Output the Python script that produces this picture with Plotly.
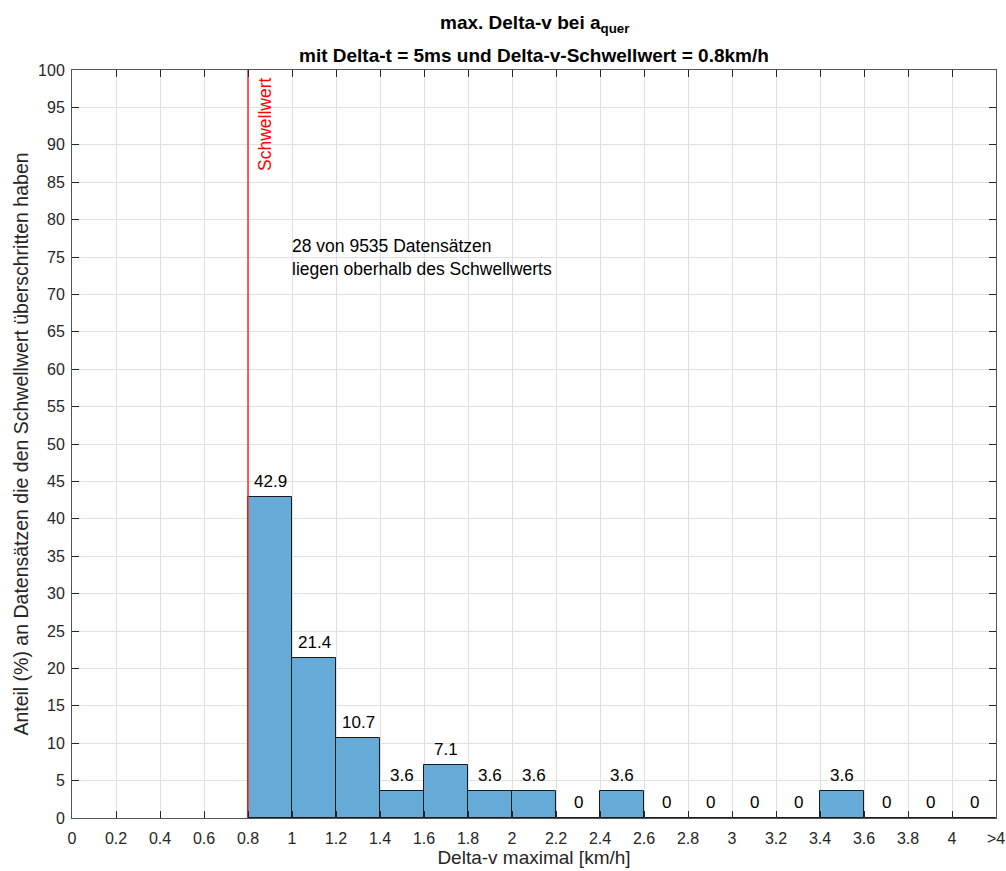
import plotly.graph_objects as go

# Histogram bins (lower edges, width 0.2 km/h) and relative share in percent
bin_left = [0.8, 1.0, 1.2, 1.4, 1.6, 1.8, 2.0, 2.2, 2.4, 2.6, 2.8, 3.0, 3.2, 3.4, 3.6, 3.8, 4.0]
share = [42.9, 21.4, 10.7, 3.6, 7.1, 3.6, 3.6, 0, 3.6, 0, 0, 0, 0, 3.6, 0, 0, 0]
bin_width = 0.2

tick_vals = [0, 0.2, 0.4, 0.6, 0.8, 1.0, 1.2, 1.4, 1.6, 1.8, 2.0, 2.2, 2.4, 2.6, 2.8,
             3.0, 3.2, 3.4, 3.6, 3.8, 4.0, 4.2]
tick_text = ["0", "0.2", "0.4", "0.6", "0.8", "1", "1.2", "1.4", "1.6", "1.8", "2", "2.2",
             "2.4", "2.6", "2.8", "3", "3.2", "3.4", "3.6", "3.8", "4", ">4"]

threshold = 0.8
n_above = 28
n_total = 9535

FONT = "Liberation Sans, Arial, Helvetica, sans-serif"
DARK = "#262626"

centers = [b + bin_width / 2 for b in bin_left]

fig = go.Figure()
fig.add_trace(go.Bar(
    x=centers, y=share, width=bin_width,
    marker=dict(color="#66AAD7", line=dict(color="#1a1a1a", width=1)),
    hoverinfo="x+y", showlegend=False,
))

# threshold marker
fig.add_trace(go.Scatter(
    x=[threshold, threshold], y=[0, 100], mode="lines",
    line=dict(color="#ff2a2a", width=1.5), showlegend=False, hoverinfo="skip",
))

annotations = []
for c, v in zip(centers, share):
    annotations.append(dict(
        x=c, y=v, xref="x", yref="y", text=f"{v:g}", showarrow=False,
        yanchor="bottom", yshift=4, font=dict(family=FONT, size=17, color="#000000"),
    ))

annotations.append(dict(
    x=threshold, y=100, xref="x", yref="y", text="Schwellwert", textangle=-90,
    showarrow=False, xanchor="left", yanchor="top", xshift=5, yshift=-5,
    font=dict(family=FONT, size=17.5, color="#ff0000"),
))
annotations.append(dict(
    x=1.0, y=75, xref="x", yref="y", align="left",
    text=f"{n_above} von {n_total} Datensätzen<br>liegen oberhalb des Schwellwerts",
    showarrow=False, xanchor="left", yanchor="middle", xshift=-2,
    font=dict(family=FONT, size=17.5, color="#000000"),
))

# two-line bold heading
annotations.append(dict(
    x=0.5, y=1.0, xref="paper", yref="paper", yshift=32,
    text="<b>max. Delta-v bei a<sub>quer</sub></b>", showarrow=False,
    xanchor="center", yanchor="bottom", font=dict(family=FONT, size=19, color="#000000"),
))
annotations.append(dict(
    x=0.5, y=1.0, xref="paper", yref="paper", yshift=2,
    text="<b>mit Delta-t = 5ms und Delta-v-Schwellwert = 0.8km/h</b>", showarrow=False,
    xanchor="center", yanchor="bottom", font=dict(family=FONT, size=19, color="#000000"),
))

fig.update_layout(
    width=1006, height=871,
    margin=dict(l=72, r=10, t=70, b=53),
    paper_bgcolor="white", plot_bgcolor="white",
    font=dict(family=FONT, size=16, color=DARK),
    annotations=annotations,
    bargap=0,
)

fig.update_xaxes(
    range=[0, 4.2], tickvals=tick_vals, ticktext=tick_text, automargin=False,
    ticks="inside", ticklen=7, tickcolor=DARK, tickwidth=1,
    showline=True, linecolor="#555555", linewidth=1, mirror="ticks",
    showgrid=True, gridcolor="#e0e0e0", gridwidth=1, zeroline=False,
    tickfont=dict(family=FONT, size=16, color=DARK), ticklabelstandoff=6,
    title=dict(text="Delta-v maximal [km/h]", font=dict(family=FONT, size=19, color=DARK), standoff=3),
)
fig.update_yaxes(
    range=[0, 100], tickmode="linear", tick0=0, dtick=5, automargin=False,
    ticks="inside", ticklen=7, tickcolor=DARK, tickwidth=1,
    showline=True, linecolor="#555555", linewidth=1, mirror="ticks",
    showgrid=True, gridcolor="#e0e0e0", gridwidth=1, zeroline=False,
    tickfont=dict(family=FONT, size=16, color=DARK), ticklabelstandoff=3,
    title=dict(text="Anteil (%) an Datensätzen die den Schwellwert überschritten haben",
               font=dict(family=FONT, size=19.5, color=DARK), standoff=4),
)

fig.write_html("out.html")
